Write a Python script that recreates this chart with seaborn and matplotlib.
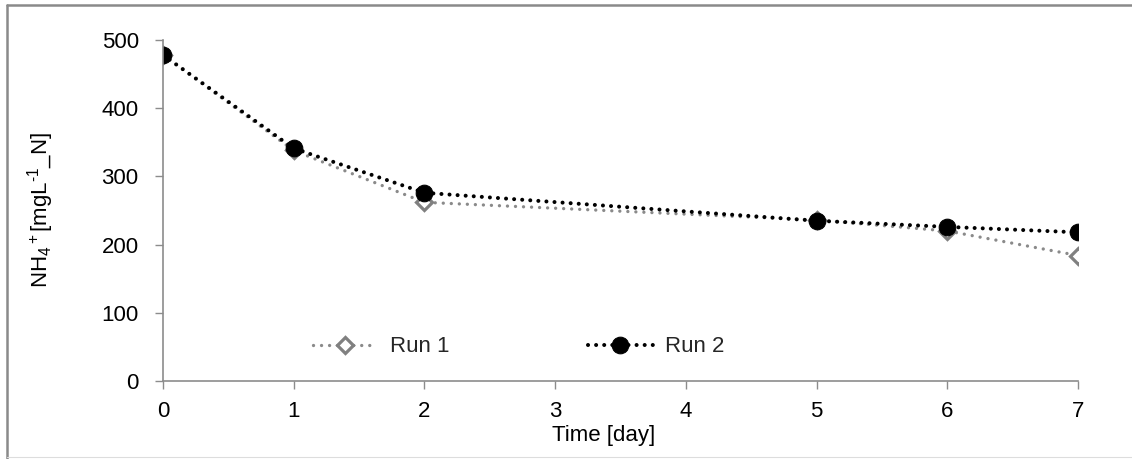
import matplotlib
matplotlib.use("Agg")
import matplotlib.pyplot as plt
import seaborn as sns
from matplotlib.lines import Line2D

# data
days = [0, 1, 2, 5, 6, 7]
run1 = [478, 338, 262, 236, 220, 184]
run2 = [478, 341, 276, 235, 226, 218]
x_ticks = [0, 1, 2, 3, 4, 5, 6, 7]
y_ticks = [0, 100, 200, 300, 400, 500]

sns.set_theme(style="ticks")
plt.rcParams['font.family'] = ['Liberation Sans', 'DejaVu Sans']
plt.rcParams['mathtext.fontset'] = 'custom'
plt.rcParams['mathtext.rm'] = 'Liberation Sans'
plt.rcParams['mathtext.it'] = 'Liberation Sans'

W, H = 1132, 459
fig = plt.figure(figsize=(W / 100, H / 100), dpi=100)
ax = fig.add_axes([163 / W, 1 - 381 / H, (1078 - 163) / W, (381 - 40) / H])

sns.lineplot(x=days, y=run1, ax=ax, color='#8a8a8a', lw=2.4, linestyle=(0, (0.01, 2.4)),
             dash_capstyle='round', marker='D', markersize=8.5, markerfacecolor='white',
             markeredgecolor='#808080', markeredgewidth=2.3, label='Run 1')
sns.lineplot(x=days, y=run2, ax=ax, color='black', lw=2.9, linestyle=(0, (0.01, 2.0)),
             dash_capstyle='round', marker='o', markersize=12, markeredgecolor='black',
             label='Run 2')

ax.set_xlim(0, 7)
ax.set_ylim(0, 500)
ax.set_xticks(x_ticks)
ax.set_yticks(y_ticks)
for s in ['top', 'right']:
    ax.spines[s].set_visible(False)
for s in ['left', 'bottom']:
    ax.spines[s].set_color('#8c8c8c')
    ax.spines[s].set_linewidth(1.2)
ax.tick_params(axis='both', colors='#8c8c8c', length=5.5, width=1.0, labelsize=16,
               labelcolor='black')
ax.tick_params(axis='y', pad=12)
ax.tick_params(axis='x', pad=9)

ax.set_xlabel('Time [day]', fontsize=16, color='black')
ax.xaxis.set_label_coords((604 - 163) / (1078 - 163), -0.13)
ax.set_ylabel(r'NH$_4$$^+$[mgL$^{\text{-}1}$_N]', fontsize=16, color='black')
ax.yaxis.set_label_coords((56 - 163) / (1078 - 163), 0.5)

ax.legend(loc='center left', bbox_to_anchor=((313 - 163) / 915, 0.1), ncol=2,
          frameon=False, borderpad=0, borderaxespad=0, handlelength=2.9,
          handletextpad=0.55, columnspacing=6.25, fontsize=16)

# outer chart border
fig.add_artist(Line2D([7 / W, 1], [1 - 5 / H, 1 - 5 / H], color='#8a8a8a', lw=1.8,
                      transform=fig.transFigure))
fig.add_artist(Line2D([7 / W, 7 / W], [1 - 5 / H, 0], color='#8a8a8a', lw=1.8,
                      transform=fig.transFigure))
fig.add_artist(Line2D([7 / W, 1], [1 - 457 / H, 1 - 457 / H], color='#dddddd', lw=0.8,
                      transform=fig.transFigure))

fig.savefig('out.png', dpi=100)
